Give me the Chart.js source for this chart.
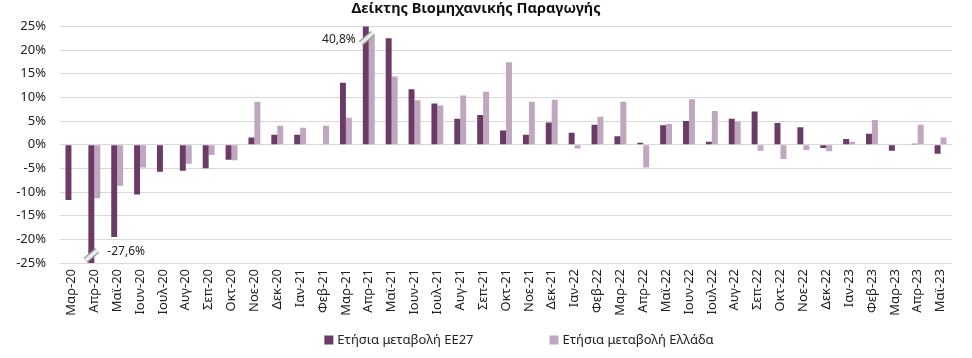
<!DOCTYPE html>
<html>
<head>
<meta charset="utf-8">
<script src="https://cdn.jsdelivr.net/npm/chart.js@4"></script>
<style>
  html, body { margin: 0; padding: 0; background: #fff; }
  #wrap { width: 972px; height: 358px; position: relative; }
</style>
</head>
<body>
<div id="wrap"><canvas id="c"></canvas></div>
<script>
const chartTitle = 'Δείκτης Βιομηχανικής Παραγωγής';
const categories = ['Μαρ-20','Απρ-20','Μαϊ-20','Ιουν-20','Ιουλ-20','Αυγ-20','Σεπ-20','Οκτ-20','Νοε-20','Δεκ-20',
  'Ιαν-21','Φεβ-21','Μαρ-21','Απρ-21','Μαϊ-21','Ιουν-21','Ιουλ-21','Αυγ-21','Σεπ-21','Οκτ-21','Νοε-21','Δεκ-21',
  'Ιαν-22','Φεβ-22','Μαρ-22','Απρ-22','Μαϊ-22','Ιουν-22','Ιουλ-22','Αυγ-22','Σεπ-22','Οκτ-22','Νοε-22','Δεκ-22',
  'Ιαν-23','Φεβ-23','Μαρ-23','Απρ-23','Μαϊ-23'];
const seriesNames = ['Ετήσια μεταβολή ΕΕ27', 'Ετήσια μεταβολή Ελλάδα'];
const ee27 = [-11.7,-27.6,-19.5,-10.5,-5.7,-5.5,-5.0,-3.2,1.5,2.1,
  2.1,null,13.1,40.8,22.5,11.7,8.7,5.5,6.3,3.0,2.1,4.7,
  2.5,4.2,1.8,0.4,4.1,5.0,0.6,5.5,7.0,4.6,3.7,-0.7,
  1.2,2.3,-1.3,0.2,-1.9];
const greece = [null,-11.3,-8.7,-4.8,null,-4.0,-2.2,-3.3,9.1,4.0,
  3.6,4.0,5.7,23.4,14.4,9.4,8.3,10.4,11.2,17.4,9.1,9.5,
  -0.8,5.9,9.1,-4.8,4.4,9.6,7.1,4.9,-1.3,-3.0,-1.1,-1.4,
  0.6,5.2,0.1,4.2,1.5];
const yMin = -25, yMax = 25, yStep = 5;
// labels for the clipped (off-scale) bars: [dataset, index]
const clippedLabels = [[0, 1], [0, 13]];

const colors = ['#6b3b66', '#bea7bf'];
const FONT = "'Noto Sans', 'DejaVu Sans', sans-serif";

function fmtPct(v) { return v.toFixed(1).replace('.', ',') + '%'; }

function drawBreak(ctx, x, y) {
  ctx.save();
  ctx.lineCap = 'butt';
  ctx.beginPath();
  ctx.moveTo(x - 6, y + 5);
  ctx.lineTo(x + 6, y - 5);
  ctx.strokeStyle = '#9a9a9a';
  ctx.lineWidth = 6;
  ctx.stroke();
  ctx.beginPath();
  ctx.moveTo(x - 6, y + 5);
  ctx.lineTo(x + 6, y - 5);
  ctx.strokeStyle = '#ececec';
  ctx.lineWidth = 3.5;
  ctx.stroke();
  ctx.restore();
}

const clipPlugin = {
  id: 'clipLabels',
  afterDatasetsDraw(chart) {
    const ctx = chart.ctx;
    const y = chart.scales.y;
    ctx.save();
    ctx.font = '12px ' + FONT;
    ctx.fillStyle = '#222';
    ctx.textBaseline = 'middle';
    clippedLabels.forEach(([d, i]) => {
      const v = chart.data.datasets[d].data[i];
      const bar = chart.getDatasetMeta(d).data[i];
      if (v < yMin) {
        const by = y.getPixelForValue(yMin + 1.6);
        drawBreak(ctx, bar.x, by);
        ctx.textAlign = 'left';
        ctx.fillStyle = '#222';
        ctx.fillText(fmtPct(v), bar.x + 16, y.getPixelForValue(yMin + 2.5));
      } else if (v > yMax) {
        const by = y.getPixelForValue(yMax - 2.5);
        drawBreak(ctx, bar.x + 1, by);
        ctx.textAlign = 'right';
        ctx.fillStyle = '#222';
        ctx.fillText(fmtPct(v), bar.x - 10, y.getPixelForValue(yMax - 2.8));
      }
    });
    ctx.restore();
  }
};

const legendPlugin = {
  id: 'customLegend',
  afterDraw(chart) {
    const ctx = chart.ctx;
    ctx.save();
    ctx.font = '13px ' + FONT;
    ctx.textBaseline = 'middle';
    ctx.textAlign = 'left';
    const box = 9, gapText = 4, gapItems = 76;
    const widths = chart.data.datasets.map(ds => box + gapText + ctx.measureText(ds.label).width);
    const total = widths.reduce((a, b) => a + b, 0) + gapItems * (widths.length - 1);
    const ca = chart.chartArea;
    let x = (ca.left + ca.right) / 2 + 13 - total / 2;
    const cy = chart.height - 18;
    chart.data.datasets.forEach((ds, k) => {
      ctx.fillStyle = ds.backgroundColor;
      ctx.fillRect(x, cy - box / 2, box, box);
      ctx.fillStyle = '#222';
      ctx.fillText(ds.label, x + box + gapText, cy);
      x += widths[k] + gapItems;
    });
    ctx.restore();
  }
};

new Chart(document.getElementById('c'), {
  type: 'bar',
  data: {
    labels: categories,
    datasets: [
      { label: seriesNames[0], data: ee27, backgroundColor: colors[0], borderWidth: 0 },
      { label: seriesNames[1], data: greece, backgroundColor: colors[1], borderWidth: 0 }
    ]
  },
  options: {
    responsive: true,
    maintainAspectRatio: false,
    animation: false,
    layout: { padding: { left: 0, right: 20, top: 0, bottom: 28 } },
    datasets: { bar: { categoryPercentage: 0.52, barPercentage: 1.0 } },
    plugins: {
      legend: { display: false },
      tooltip: { enabled: false },
      title: {
        display: true,
        text: chartTitle,
        color: '#111',
        font: { family: FONT, size: 14.5, weight: 'bold' },
        padding: { top: 0, bottom: 9 }
      }
    },
    scales: {
      x: {
        grid: { display: false, drawTicks: false },
        border: { display: false },
        ticks: {
          autoSkip: false, maxRotation: 90, minRotation: 90, padding: 6,
          color: '#222', font: { family: FONT, size: 13 }
        },
        afterFit(scale) { scale.height = 67; }
      },
      y: {
        min: yMin, max: yMax,
        grid: { color: '#d9d9d9', lineWidth: 1, drawTicks: false },
        border: { display: false },
        ticks: {
          stepSize: yStep, padding: 14, color: '#222',
          font: { family: FONT, size: 13 },
          callback: v => v + '%'
        },
        afterFit(scale) { scale.width = 60; }
      }
    }
  },
  plugins: [clipPlugin, legendPlugin]
});
</script>
</body>
</html>
